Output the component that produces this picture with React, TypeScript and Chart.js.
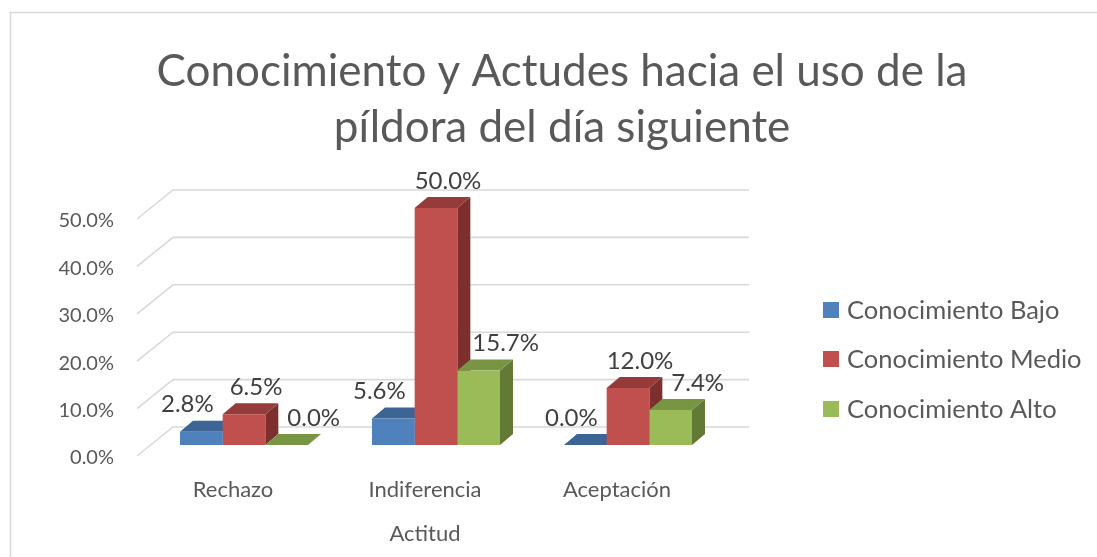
import React, { useEffect, useRef } from 'react';
import { Chart, registerables } from 'chart.js';

Chart.register(...registerables);

// ---- data ----
const categories = ['Rechazo', 'Indiferencia', 'Aceptación'];
const seriesNames = ['Conocimiento Bajo', 'Conocimiento Medio', 'Conocimiento Alto'];
const bajo = [0.028, 0.056, 0.0];
const medio = [0.065, 0.5, 0.12];
const alto = [0.0, 0.157, 0.074];
const yTicks = [0, 0.1, 0.2, 0.3, 0.4, 0.5];
const titleLines = ['Conocimiento y Actudes hacia el uso de la', 'píldora del día siguiente'];
const xAxisTitle = 'Actitud';

// ---- styles ----
const FONT = 'Lato';
const FRONT_COLORS = ['#4F81BD', '#C0504D', '#9BBB59'];
const TOP_COLORS = ['#3C6494', '#953C3A', '#789544'];
const SIDE_COLORS = ['#33557F', '#7C2F2D', '#627A36'];
const GRID_COLOR = '#d9d9d9';
const TEXT_COLOR = '#595959';
const LABEL_COLOR = '#404040';
const BAR_DEPTH = { dx: 13, dy: -11 };
const FLOOR_FRONT = { dx: -11, dy: 11 };
const FLOOR_BACK = { dx: 25, dy: -18 };
const LABEL_DX = [-14, 12, 27];
const LABEL_DY = -27;

const pct = (v: number) => (v * 100).toFixed(1) + '%';

function poly(ctx: CanvasRenderingContext2D, pts: number[][], color: string) {
  ctx.beginPath();
  ctx.moveTo(pts[0][0], pts[0][1]);
  for (let k = 1; k < pts.length; k++) ctx.lineTo(pts[k][0], pts[k][1]);
  ctx.closePath();
  ctx.fillStyle = color;
  ctx.fill();
}

const threeDPlugin = {
  id: 'threeD',
  beforeDraw(chart: any) {
    const ctx = chart.ctx as CanvasRenderingContext2D;
    ctx.save();
    ctx.fillStyle = '#ffffff';
    ctx.fillRect(0, 0, chart.width, chart.height);
    ctx.strokeStyle = GRID_COLOR;
    ctx.lineWidth = 1.5;
    ctx.strokeRect(10.5, 12.5, chart.width + 50, chart.height + 50);
    ctx.restore();
  },
  beforeDatasetsDraw(chart: any) {
    const ctx = chart.ctx as CanvasRenderingContext2D;
    const { left, right } = chart.chartArea;
    const yScale = chart.scales.y;
    ctx.save();
    ctx.strokeStyle = GRID_COLOR;
    ctx.lineWidth = 1.6;
    yTicks.forEach((v) => {
      const py = yScale.getPixelForValue(v);
      ctx.beginPath();
      ctx.moveTo(left + FLOOR_FRONT.dx, py + FLOOR_FRONT.dy);
      ctx.lineTo(left + FLOOR_BACK.dx, py + FLOOR_BACK.dy);
      ctx.lineTo(right + FLOOR_BACK.dx, py + FLOOR_BACK.dy);
      ctx.stroke();
    });
    const nCat = chart.data.labels.length;
    const nSet = chart.data.datasets.length;
    for (let j = 0; j < nCat; j++) {
      for (let i = 0; i < nSet; i++) {
        const bar = chart.getDatasetMeta(i).data[j];
        const p = bar.getProps(['x', 'y', 'base', 'width'], true);
        const l = p.x - p.width / 2;
        const r = p.x + p.width / 2;
        const top = Math.min(p.y, p.base);
        const base = Math.max(p.y, p.base);
        poly(ctx, [[r, top], [r + BAR_DEPTH.dx, top + BAR_DEPTH.dy], [r + BAR_DEPTH.dx, base + BAR_DEPTH.dy], [r, base]], SIDE_COLORS[i]);
        poly(ctx, [[l, top], [l + BAR_DEPTH.dx, top + BAR_DEPTH.dy], [r + BAR_DEPTH.dx, top + BAR_DEPTH.dy], [r, top]], TOP_COLORS[i]);
      }
    }
    ctx.restore();
  },
  afterDatasetsDraw(chart: any) {
    const ctx = chart.ctx as CanvasRenderingContext2D;
    ctx.save();
    ctx.font = `24px ${FONT}`;
    ctx.fillStyle = LABEL_COLOR;
    ctx.textAlign = 'center';
    ctx.textBaseline = 'middle';
    chart.data.datasets.forEach((ds: any, i: number) => {
      const meta = chart.getDatasetMeta(i);
      meta.data.forEach((bar: any, j: number) => {
        const p = bar.getProps(['x', 'y'], true);
        ctx.fillText(pct(ds.data[j]), p.x + LABEL_DX[i], p.y + LABEL_DY);
      });
    });
    ctx.restore();
  },
  afterDraw(chart: any) {
    const ctx = chart.ctx as CanvasRenderingContext2D;
    const { left, right } = chart.chartArea;
    ctx.save();
    // title
    ctx.fillStyle = TEXT_COLOR;
    ctx.textAlign = 'center';
    ctx.textBaseline = 'alphabetic';
    ctx.font = `44px ${FONT}`;
    titleLines.forEach((t, k) => ctx.fillText(t, 562, 86 + k * 56));
    // x axis title
    ctx.font = `22px ${FONT}`;
    ctx.fillText(xAxisTitle, (left + right) / 2 + FLOOR_FRONT.dx, 541);
    // legend
    ctx.textAlign = 'left';
    ctx.textBaseline = 'middle';
    ctx.font = `25.5px ${FONT}`;
    const legendY = [310, 359, 409];
    seriesNames.forEach((name, i) => {
      ctx.fillStyle = FRONT_COLORS[i];
      ctx.fillRect(823, legendY[i] - 8, 16, 16);
      ctx.fillStyle = TEXT_COLOR;
      ctx.fillText(name, 847, legendY[i] + 1);
    });
    ctx.restore();
  },
};

export default function App() {
  const ref = useRef<HTMLCanvasElement>(null);
  useEffect(() => {
    document.body.style.margin = '0';
    const chart = new Chart(ref.current as HTMLCanvasElement, {
      type: 'bar',
      data: {
        labels: categories,
        datasets: [
          { label: seriesNames[0], data: bajo, backgroundColor: FRONT_COLORS[0] },
          { label: seriesNames[1], data: medio, backgroundColor: FRONT_COLORS[1] },
          { label: seriesNames[2], data: alto, backgroundColor: FRONT_COLORS[2] },
        ],
      },
      options: {
        responsive: false,
        animation: false,
        layout: { padding: { top: 208, right: 373, left: 0, bottom: 0 } },
        datasets: { bar: { categoryPercentage: 128 / 192, barPercentage: 1, borderWidth: 0 } },
        plugins: {
          legend: { display: false },
          title: { display: false },
          tooltip: { enabled: false },
        },
        scales: {
          x: {
            grid: { display: false, drawTicks: false },
            border: { display: false },
            ticks: {
              color: TEXT_COLOR,
              font: { family: FONT, size: 22 },
              labelOffset: FLOOR_FRONT.dx,
              padding: 32,
              maxRotation: 0,
            },
            afterFit: (s: any) => {
              s.height = 112;
            },
          },
          y: {
            min: 0,
            max: 0.5,
            grid: { display: false, drawTicks: false },
            border: { display: false },
            afterBuildTicks: (s: any) => {
              s.ticks = yTicks.map((v) => ({ value: v }));
            },
            ticks: {
              color: TEXT_COLOR,
              font: { family: FONT, size: 20 },
              labelOffset: FLOOR_FRONT.dy + 2,
              padding: 34,
              callback: (v: any) => pct(Number(v)),
            },
            afterFit: (s: any) => {
              s.width = 148;
            },
          },
        },
      },
      plugins: [threeDPlugin],
    } as any);
    return () => chart.destroy();
  }, []);
  return (
    <div style={{ width: 1097, height: 557 }}>
      <canvas ref={ref} width={1097} height={557} style={{ display: 'block' }} />
    </div>
  );
}
